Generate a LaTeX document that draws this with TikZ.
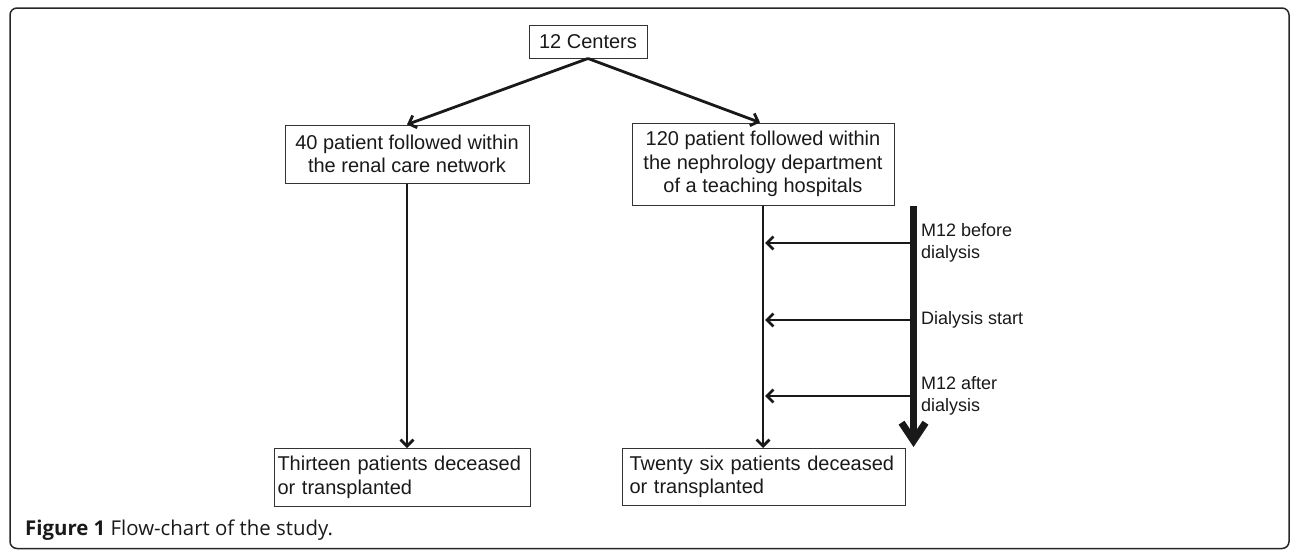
\documentclass[tikz,border=0pt]{standalone}
\usepackage{fontspec}
\setmainfont{Liberation Sans}
\newfontfamily\capfont{Open Sans}
\usetikzlibrary{arrows.meta}

\begin{document}
\begin{tikzpicture}[x=1pt, y=-1pt,
		box/.style={draw=black!80, line width=1pt, inner sep=0pt, text=black!90, font=\fontsize{20}{23.5}\selectfont},
		arr/.style={line width=2.8pt, black!90, -{Straight Barb[length=6.5pt,width=13pt]}},
		lbl/.style={anchor=west, inner sep=0pt, align=left, text=black!90, font=\fontsize{18}{22}\selectfont}]
	\useasboundingbox (0,0) rectangle (1290,549);
	\draw[line width=1.5pt, black!85, rounded corners=7pt] (10,8) rectangle (1289,548.5);
			\node[box, minimum width=118, minimum height=33] (centers) at (588,41.5) {12 Centers};
			\node[box, minimum width=244, minimum height=58, align=center] (renal) at (407,154) {40 patient followed within\\the renal care network};
			\node[box, minimum width=262, minimum height=82, align=center] (nephro) at (763,164) {120 patient followed within\\the nephrology department\\of a teaching hospitals};
			\node[box, anchor=north west, minimum height=58, text width=250, inner xsep=3, align=left] (thirteen) at (274,448) {Thirteen patients deceased\\or transplanted};
			\node[box, anchor=north west, minimum height=57, text width=269, inner xsep=7, align=left] (twentysix) at (622,448) {Twenty six patients deceased\\or transplanted};
				\draw[arr] (centers.south) -- (renal.north);
				\draw[arr] (centers.south) -- ([xshift=-3]nephro.north);
				\draw[arr] (renal.south) -- (renal.south |- thirteen.north);
				\draw[arr] (nephro.south) -- (nephro.south |- twentysix.north);
				\foreach \n/\y/\txt in {a/243/{M12 before\\dialysis}, b/320/{Dialysis start}, c/396/{M12 after\\dialysis}}{
					\coordinate (time\n) at (913.5,\y);
					\draw[arr] (time\n) -- ([xshift=2]time\n -| nephro.south);
					\node[lbl] (lab\n) at (921,\y) {\txt};
				}
			\coordinate (tstart) at (913.5,206);
			\coordinate (tend) at (913.5,447);
			\draw[line width=7pt, black!90, -{Straight Barb[length=18pt,width=24pt]}] (tstart) -- (tend);
	\node[anchor=base west, inner sep=0pt, text=black!90, font=\capfont\fontsize{20.4}{22}\selectfont] (caption) at (25,535) {\textbf{Figure 1} Flow-chart of the study.};
\end{tikzpicture}
\end{document}
